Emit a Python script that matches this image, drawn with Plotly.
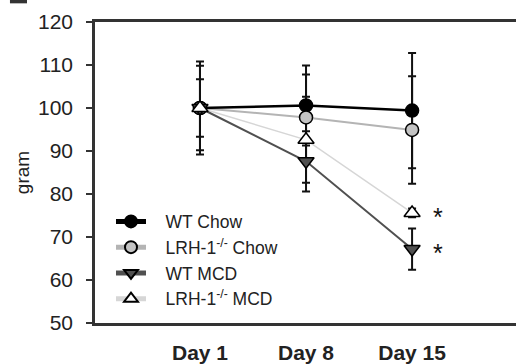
import plotly.graph_objects as go

days = ["Day 1", "Day 8", "Day 15"]
xpos = [0, 1, 2]

series_names = ["WT Chow", "LRH-1<sup>-/-</sup> Chow", "WT MCD", "LRH-1<sup>-/-</sup> MCD"]
wt_chow = [100.0, 100.6, 99.4]
lrh_chow = [100.0, 97.8, 94.9]
wt_mcd = [100.0, 87.6, 67.2]
lrh_mcd = [100.0, 92.6, 75.6]

wt_chow_err = [10.8, 9.3, 13.4]
lrh_chow_err = [9.8, 10.0, 12.5]
wt_mcd_err = [6.7, 7.0, 4.8]
lrh_mcd_err = [1.0, 10.0, 1.0]

yticks = [50, 60, 70, 80, 90, 100, 110, 120]
star_labels = ["*", "*"]
star_values = [lrh_mcd[2], wt_mcd[2]]

FONT = "Arial, Liberation Sans, sans-serif"
PAD = "\u00a0\u00a0\u00a0"

styles = [
    dict(line=dict(color="#000000", width=2.5), symbol="circle", fill="#000000", size=13),
    dict(line=dict(color="#b4b4b4", width=2), symbol="circle", fill="#c4c4c4", size=13),
    dict(line=dict(color="#505050", width=2), symbol="triangle-down", fill="#505050", size=14),
    dict(line=dict(color="#d6d6d6", width=1.5), symbol="triangle-up", fill="#ffffff", size=14),
]
vals = [wt_chow, lrh_chow, wt_mcd, lrh_mcd]
errs = [wt_chow_err, lrh_chow_err, wt_mcd_err, lrh_mcd_err]

fig = go.Figure()

# error bars (under everything)
for v, e in zip(vals, errs):
    fig.add_trace(go.Scatter(
        x=xpos, y=v, mode="markers",
        marker=dict(size=1, color="rgba(0,0,0,0)"),
        error_y=dict(type="data", array=e, visible=True, color="#111111", thickness=2, width=4),
        showlegend=False, hoverinfo="skip"))

# lines (lightest first)
for i in [3, 1, 2, 0]:
    fig.add_trace(go.Scatter(
        x=xpos, y=vals[i], mode="lines", line=styles[i]["line"],
        showlegend=False, hoverinfo="skip"))

# markers
for i in [0, 1, 2, 3]:
    s = styles[i]
    fig.add_trace(go.Scatter(
        x=xpos, y=vals[i], mode="markers",
        marker=dict(symbol=s["symbol"], size=s["size"], color=s["fill"],
                    line=dict(color="#000000", width=1.5)),
        showlegend=False))

# legend entries
for i in [0, 1, 2, 3]:
    s = styles[i]
    fig.add_trace(go.Scatter(
        x=[None], y=[None], mode="lines+markers", name=PAD + series_names[i],
        line=s["line"],
        marker=dict(symbol=s["symbol"], size=s["size"], color=s["fill"],
                    line=dict(color="#000000", width=1.5))))

for lab, yv in zip(star_labels, star_values):
    fig.add_annotation(x=2.24, y=yv, text=lab, showarrow=False,
                       font=dict(family=FONT, size=25, color="#111111"), yshift=-4)

fig.add_shape(type="rect", xref="paper", yref="paper",
              x0=-0.202, x1=-0.1615, y0=1.062, y1=1.08,
              fillcolor="#333333", line=dict(width=0))

fig.update_layout(
    width=516, height=364,
    margin=dict(l=95, r=0, t=22, b=37),
    paper_bgcolor="white", plot_bgcolor="white",
    font=dict(family=FONT, color="#222222"),
    showlegend=True,
    legend=dict(x=0.038, y=0.397, xanchor="left", yanchor="top",
                bgcolor="rgba(0,0,0,0)", font=dict(family=FONT, size=17.5, color="#222222"),
                tracegroupgap=0, itemsizing="constant"),
    xaxis=dict(range=[-0.99, 2.98], tickvals=xpos,
               ticktext=["<b>%s</b>" % d for d in days],
               showline=True, linecolor="#333333", linewidth=2.5, mirror=True,
               ticks="", showgrid=False, zeroline=False,
               tickfont=dict(family=FONT, size=21, color="#222222"),
               ticklabelstandoff=9),
    yaxis=dict(range=[50, 120], tickvals=yticks,
               showline=True, linecolor="#333333", linewidth=2.5, mirror=False,
               ticks="outside", ticklen=6, tickwidth=2, tickcolor="#333333",
               showgrid=False, zeroline=False,
               tickfont=dict(family=FONT, size=21, color="#222222"),
               ticklabelstandoff=9,
               title=dict(text="gram", font=dict(family=FONT, size=19, color="#222222"), standoff=4)),
)

fig.write_html("out.html")
